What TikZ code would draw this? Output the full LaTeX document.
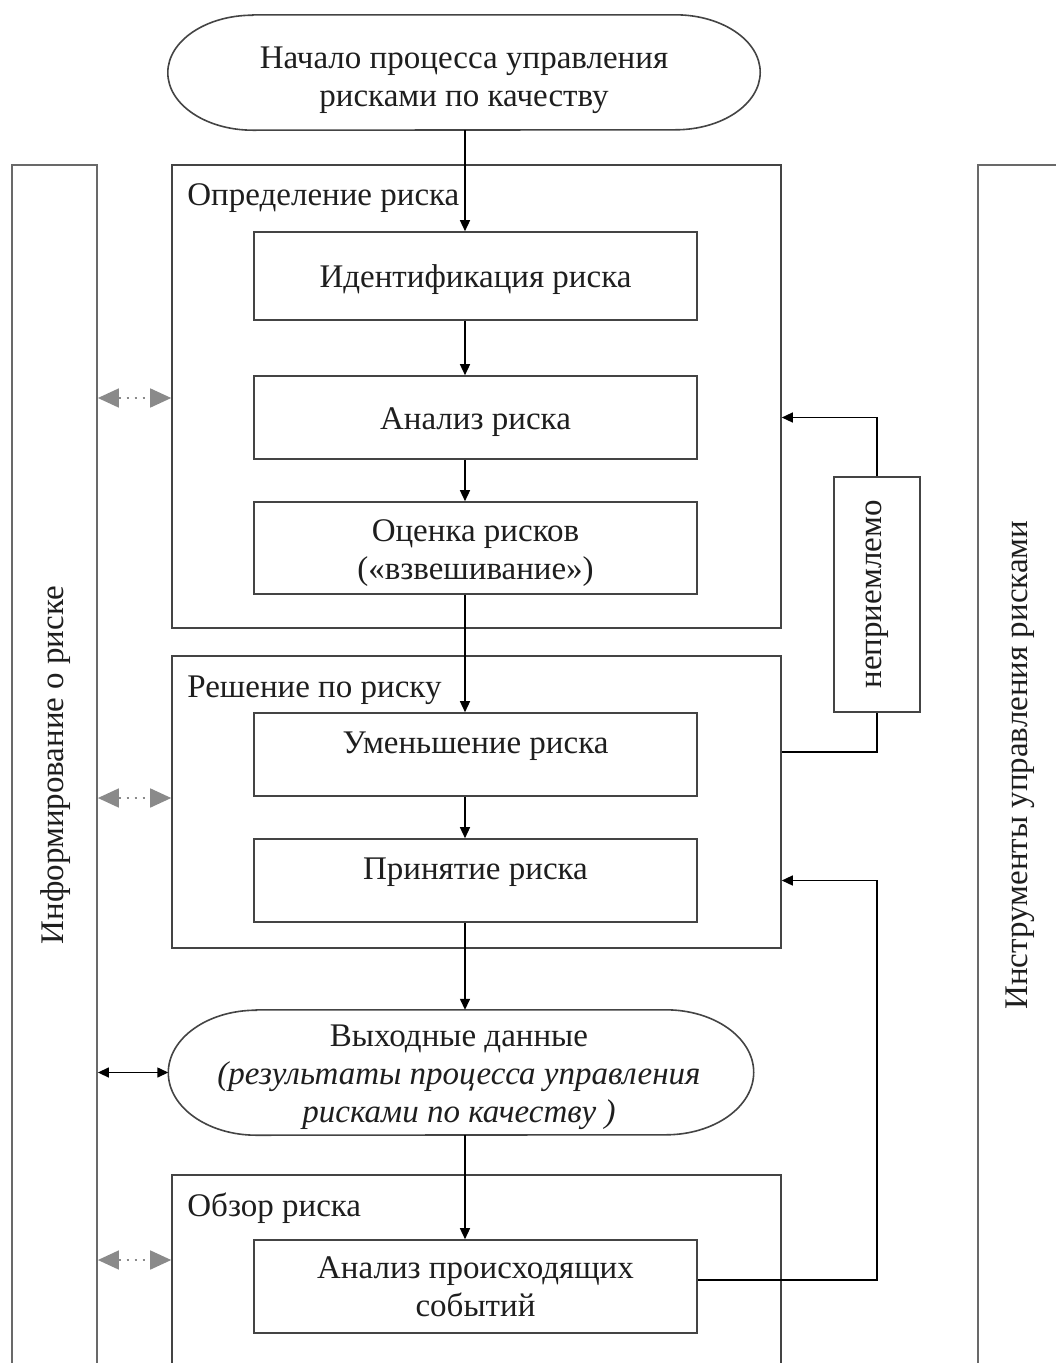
\documentclass[tikz,border=0pt]{standalone}
\usepackage{fontspec}
\setmainfont{Liberation Serif}
\usetikzlibrary{shapes.misc,arrows.meta,calc}
\definecolor{ln}{HTML}{444444}
\definecolor{tx}{HTML}{1E1E1E}
\definecolor{gr}{HTML}{8A8A8A}
\tikzset{
  box/.style={draw=ln, line width=1.6pt, rectangle, minimum width=443pt, inner sep=0pt},
  txt/.style={text=tx, align=center, inner sep=0pt},
  grp/.style={draw=ln, line width=1.6pt, rectangle, minimum width=609pt, inner sep=0pt},
  termline/.style={draw=ln, line width=1.6pt},
  bar/.style={draw=ln!80, line width=1.8pt, rectangle, inner sep=0pt},
  arr/.style={draw=black, line width=1.4pt, -{Triangle[length=11pt,width=10pt]}},
  darr/.style={draw=black, line width=1.4pt, {Triangle[length=11pt,width=10pt]}-{Triangle[length=11pt,width=10pt]}},
  garr/.style={draw=gr, line width=1.6pt, dash pattern=on 2pt off 6pt, {Triangle[length=21pt,width=19pt]}-{Triangle[length=21pt,width=19pt]}},
  ln/.style={draw=black, line width=1.4pt},
  lbl/.style={text=tx, inner sep=0pt, anchor=north west},
}
\begin{document}
\begin{tikzpicture}[x=1pt,y=-1pt]
\fontsize{33}{38}\selectfont
\clip (0,0) rectangle (1056,1363);
\fill[white] (0,0) rectangle (1056,1363);
% side bars
\node[bar, minimum width=85pt, minimum height=1215pt] (lb) at (54.5,772.5) {};
\node[bar, minimum width=110pt, minimum height=1215pt] (rb) at (1033,772.5) {};
\node[txt, rotate=90] (lbt) at (56,765) {Информирование о риске};
\node[txt, rotate=90] (rbt) at (1020,765) {Инструменты управления рисками};
% start terminal
\node[minimum width=592pt, minimum height=115pt, inner sep=0pt] (start) at (464,72.5) {};
\draw[termline] ($(start.north west)+(85,0)$) -- ($(start.north east)+(-85,0)$)
  arc[start angle=90, end angle=-90, x radius=85pt, y radius=57.5pt]
  -- ($(start.south west)+(85,0)$)
  arc[start angle=270, end angle=90, x radius=85pt, y radius=57.5pt] -- cycle;
\node[txt] (startt) at ($(start.center)+(0,8)$) {Начало процесса управления\\рисками по качеству};
% group 1
\node[grp, minimum height=463pt] (g1) at (476.5,396.5) {};
\node[lbl] (g1t) at ($(g1.north west)+(16,19)$) {Определение риска};
\node[box, minimum height=88pt] (id) at (475.5,276) {};
\node[txt] (idt) at ($(id.center)+(0,4)$) {Идентификация риска};
\node[box, minimum height=83pt] (an) at (475.5,417.5) {};
\node[txt] (ant) at ($(an.center)+(0,5)$) {Анализ риска};
\node[box, minimum height=92pt] (oc) at (475.5,548) {};
\node[txt] (oct) at ($(oc.center)+(0,5)$) {Оценка рисков\\(«взвешивание»)};
% group 2
\node[grp, minimum height=292pt] (g2) at (476.5,802) {};
\node[lbl] (g2t) at ($(g2.north west)+(16,20)$) {Решение по риску};
\node[box, minimum height=83pt] (um) at (475.5,754.5) {};
\node[txt] (umt) at ($(um.north)+(0,34)$) {Уменьшение риска};
\node[box, minimum height=83pt] (pr) at (475.5,880.5) {};
\node[txt] (prt) at ($(pr.north)+(0,34)$) {Принятие риска};
% output terminal
\node[minimum width=585pt, minimum height=125pt, inner sep=0pt] (out) at (461,1072.5) {};
\draw[termline] ($(out.north west)+(88,0)$) -- ($(out.north east)+(-88,0)$)
  arc[start angle=90, end angle=-90, x radius=88pt, y radius=62.5pt]
  -- ($(out.south west)+(88,0)$)
  arc[start angle=270, end angle=90, x radius=88pt, y radius=62.5pt] -- cycle;
\node[txt] (outt) at ($(out.center)+(-2,5)$) {Выходные данные\\\itshape (результаты процесса управления\\\itshape рисками по качеству )};
% group 3
\node[grp, minimum height=215pt] (g3) at (476.5,1282.5) {};
\node[lbl] (g3t) at ($(g3.north west)+(16,18)$) {Обзор риска};
\node[box, minimum height=93pt] (ev) at (475.5,1286.5) {};
\node[txt] (evt) at ($(ev.center)+(0,0)$) {Анализ происходящих\\событий};
% unacceptable
\node[draw=ln, line width=1.6pt, minimum width=86pt, minimum height=235pt, inner sep=0pt] (nep) at (877,594.5) {};
\node[txt, rotate=90] (nept) at (877,594.5) {неприемлемо};
% main flow
\coordinate (ax) at (465,0);
\draw[arr] (ax |- start.south) -- (ax |- id.north);
\draw[arr] (ax |- id.south) -- (ax |- an.north);
\draw[arr] (ax |- an.south) -- (ax |- oc.north);
\draw[arr] (ax |- oc.south) -- (ax |- um.north);
\draw[arr] (ax |- um.south) -- (ax |- pr.north);
\draw[arr] (ax |- pr.south) -- (ax |- out.north);
\draw[arr] (ax |- out.south) -- (ax |- ev.north);
% feedback
\draw[ln] (g2.east |- 0,752) -| (nep.south);
\draw[arr] (nep.north) |- (g1.east |- an.center);
\draw[arr] (ev.east |- 0,1280) -| ($(nep.south)+(0,168)$) |- (g2.east |- pr.center);
% side communication
\draw[garr] (lb.east |- 0,398) -- (g1.west |- 0,398);
\draw[garr] (lb.east |- 0,798) -- (g2.west |- 0,798);
\draw[garr] (lb.east |- 0,1260) -- (g3.west |- 0,1260);
\draw[darr] (lb.east |- out.west) -- (out.west);
\end{tikzpicture}
\end{document}
